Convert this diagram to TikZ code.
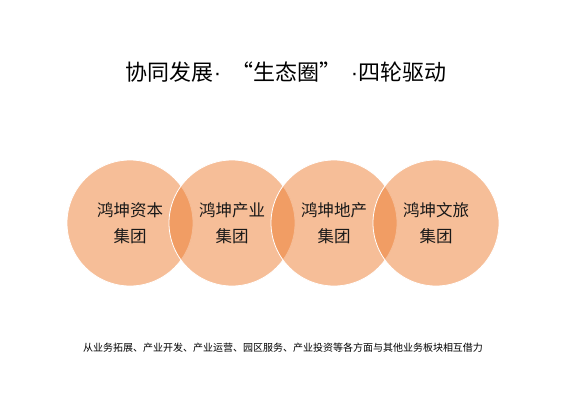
\documentclass[tikz,border=0pt]{standalone}
\usepackage{fontspec}
\setmainfont{Noto Sans CJK SC}
\newfontfamily\latinfont{Liberation Sans}
\usepackage{tikz}
\definecolor{ringorange}{RGB}{237,125,49}
\newcommand{\middot}{{\latinfont ·}}
\tikzset{ring/.style={circle,minimum size=126pt,inner sep=0pt,fill=ringorange,fill opacity=0.5,draw=white,draw opacity=1,line width=0.8pt}}
\tikzset{ringtext/.style={align=center,font=\fontsize{16.5}{26}\selectfont,text=black!90}}

\begin{document}
\begin{tikzpicture}[x=1pt,y=-1pt]
	\useasboundingbox (0,0) rectangle (570,407);
	\node[font=\fontsize{22}{24}\selectfont] (title) at (286,72) {协同发展\middot\hspace{0.45em}“生态圈”\hspace{0.45em}\middot{}四轮驱动};
	\begin{scope}
		\node[ring] (zb) at (130,223) {};
		\node[ring] (cy) at (232,223) {};
		\node[ring] (dc) at (334,223) {};
		\node[ring] (wl) at (436,223) {};
		\node[ringtext] (zbtext) at (zb) {鸿坤资本\\集团};
		\node[ringtext] (cytext) at (cy) {鸿坤产业\\集团};
		\node[ringtext] (dctext) at (dc) {鸿坤地产\\集团};
		\node[ringtext] (wltext) at (wl) {鸿坤文旅\\集团};
	\end{scope}
	\node[font=\fontsize{10}{12}\selectfont] (note) at (283,348) {从业务拓展、产业开发、产业运营、园区服务、产业投资等各方面与其他业务板块相互借力};
\end{tikzpicture}
\end{document}
